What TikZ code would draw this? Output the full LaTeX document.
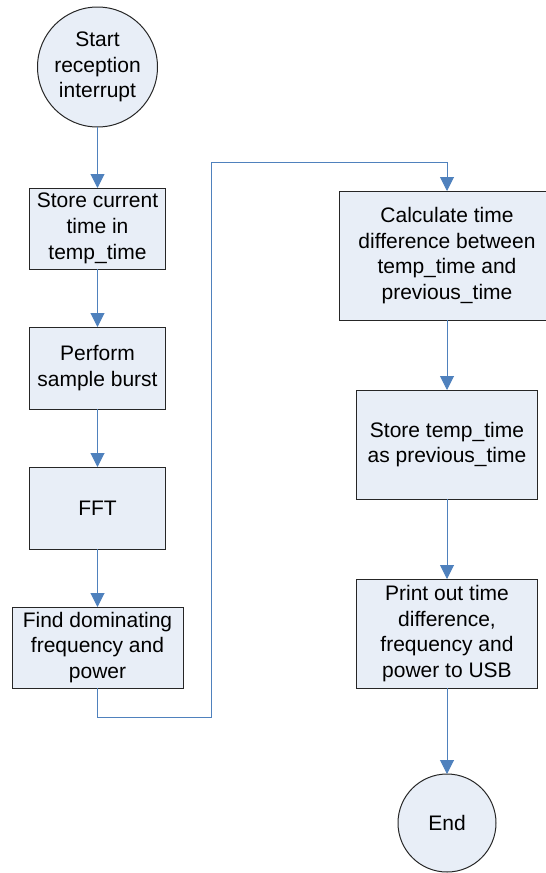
\documentclass[tikz,border=0pt]{standalone}
\usepackage{fontspec}
\setmainfont{Liberation Sans}
\usetikzlibrary{positioning,arrows.meta}
\definecolor{boxfill}{RGB}{232,238,247}
\definecolor{flowblue}{RGB}{79,129,189}

\begin{document}
\begin{tikzpicture}[x=1pt,y=-1pt]
  \tikzstyle{box}=[draw=black!85,fill=boxfill,line width=1pt,inner sep=2pt,outer sep=0pt,align=center,font=\fontsize{21}{25.7}\selectfont]
  \tikzstyle{term}=[box,circle,inner sep=0pt]
  \tikzstyle{flow}=[draw=flowblue,line width=1pt,-{Triangle[width=14pt,length=14pt]}]
  \useasboundingbox (0,0) rectangle (546,873);
  % left column
  \node[term,minimum size=120pt] (start) at (97.5,67) {Start\\reception\\interrupt};
  \node[box,minimum width=136pt,minimum height=81pt,below=61pt of start] (store) {Store current\\time in\\temp\_time};
  \node[box,minimum width=136pt,minimum height=82pt,below=58pt of store] (burst) {Perform\\sample burst};
  \node[box,minimum width=136pt,minimum height=82pt,below=58pt of burst] (fft) {FFT};
  \node[box,minimum width=171pt,minimum height=81pt,below=58pt of fft] (find) {Find dominating\\frequency and\\power};
  % right column
  \node[box,minimum width=216pt,minimum height=129pt] (calc) at (447,255.5) {Calculate time\\difference between\\temp\_time and\\previous\_time};
  \node[box,minimum width=181pt,minimum height=109pt,below=70pt of calc] (prev) {Store temp\_time\\as previous\_time};
  \node[box,minimum width=181pt,minimum height=109pt,below=80pt of prev] (usb) {Print out time\\difference,\\frequency and\\power to USB};
  \node[term,minimum size=98pt,below=86pt of usb] (end) {End};
  % crossing over
  \coordinate (low) at (211,717);
  \coordinate (high) at (211,162);
  \draw[flow] (start) -- (store);
  \draw[flow] (store) -- (burst);
  \draw[flow] (burst) -- (fft);
  \draw[flow] (fft) -- (find);
  \draw[flow] (find.south) |- (low) -- (high) -| (calc.north);
  \draw[flow] (calc) -- (prev);
  \draw[flow] (prev) -- (usb);
  \draw[flow] (usb) -- (end);
\end{tikzpicture}
\end{document}
